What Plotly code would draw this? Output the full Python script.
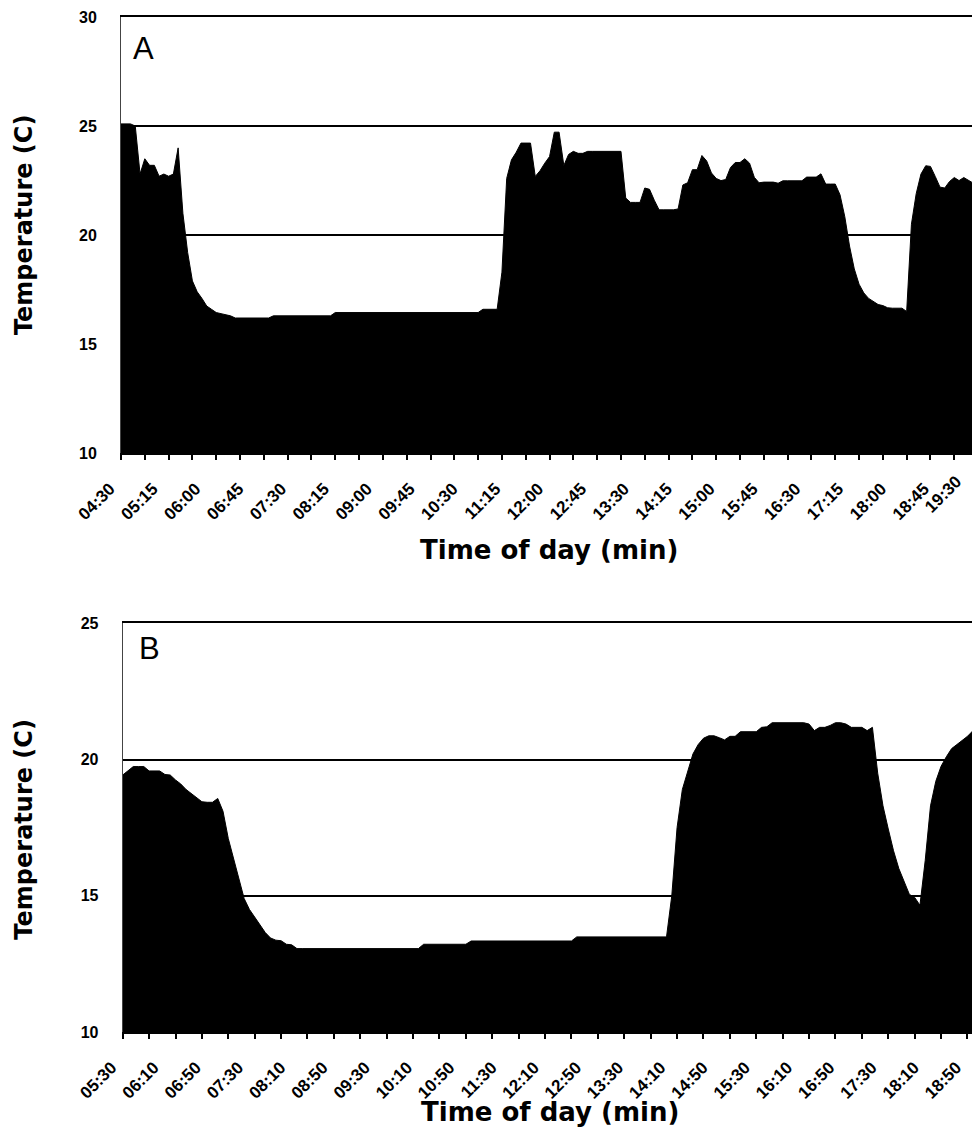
import plotly.graph_objects as go

# ---------------- data ----------------
STEP_MIN = 5  # sampling interval of the logger, minutes

top_start = "04:30"
top_temp = [
    25.1, 25.1, 25.1, 25.0,
    22.8, 23.5, 23.2, 23.2, 22.7, 22.8, 22.7, 22.8,
    24.0, 21.0, 19.2, 17.9, 17.4, 17.1, 16.75, 16.6, 16.45, 16.4, 16.35, 16.3,
    16.2, 16.2, 16.2, 16.2, 16.2, 16.2, 16.2, 16.2,
    16.3, 16.3, 16.3, 16.3, 16.3, 16.3, 16.3, 16.3, 16.3, 16.3, 16.3, 16.3, 16.3,
    16.45, 16.45, 16.45, 16.45, 16.45, 16.45, 16.45, 16.45, 16.45, 16.45,
    16.45, 16.45, 16.45, 16.45, 16.45, 16.45, 16.45, 16.45, 16.45, 16.45,
    16.45, 16.45, 16.45, 16.45, 16.45, 16.45, 16.45, 16.45, 16.45, 16.45, 16.45,
    16.6, 16.6, 16.6, 16.6,
    18.3, 22.6, 23.45, 23.8, 24.22, 24.22, 24.22, 22.69, 22.95, 23.3, 23.6,
    24.72, 24.72, 23.19, 23.7, 23.84, 23.75, 23.75,
    23.84, 23.84, 23.84, 23.84, 23.84, 23.84, 23.84, 23.84,
    21.7, 21.5, 21.5, 21.5,
    22.16, 22.1, 21.6,
    21.16, 21.16, 21.16, 21.16, 21.2,
    22.3, 22.4, 23.0, 23.0, 23.65, 23.4, 22.85, 22.6, 22.5, 22.55, 23.1,
    23.33, 23.33, 23.5, 23.3, 22.65, 22.4, 22.43, 22.43, 22.43, 22.38,
    22.49, 22.49, 22.49, 22.49, 22.49,
    22.66, 22.66, 22.66, 22.81,
    22.34, 22.34, 22.34,
    21.85, 20.85, 19.5, 18.45, 17.75, 17.35, 17.1, 16.95, 16.82, 16.77, 16.67,
    16.65, 16.65, 16.65,
    16.5, 20.5, 21.9, 22.8, 23.18, 23.15, 22.69, 22.2, 22.16, 22.46, 22.64,
    22.5, 22.64, 22.5, 22.38,
]

bottom_start = "05:30"
bottom_temp = [
    19.43, 19.6, 19.74, 19.74, 19.74, 19.58, 19.58, 19.58, 19.45, 19.43,
    19.25, 19.1, 18.9, 18.75, 18.6, 18.45, 18.43, 18.43, 18.57,
    18.1, 17.1, 16.4, 15.7, 14.9, 14.5, 14.2, 13.9, 13.65, 13.45, 13.37,
    13.35, 13.22, 13.2,
    13.06, 13.06, 13.06, 13.06, 13.06, 13.06, 13.06, 13.06, 13.06, 13.06, 13.06, 13.06,
    13.06, 13.06, 13.06, 13.06, 13.06, 13.06, 13.06, 13.06, 13.06, 13.06, 13.06, 13.06,
    13.22, 13.22, 13.22, 13.22, 13.22, 13.22, 13.22, 13.22, 13.22,
    13.34, 13.34, 13.34, 13.34, 13.34, 13.34, 13.34, 13.34, 13.34, 13.34,
    13.34, 13.34, 13.34, 13.34, 13.34, 13.34, 13.34, 13.34, 13.34, 13.34,
    13.49, 13.49, 13.49, 13.49, 13.49, 13.49, 13.49, 13.49, 13.49,
    13.49, 13.49, 13.49, 13.49, 13.49, 13.49, 13.49, 13.49, 13.49,
    15.0, 17.5, 18.9, 19.6, 20.2, 20.55, 20.78, 20.87, 20.87, 20.8,
    20.72, 20.85, 20.85, 21.02, 21.02, 21.02, 21.02, 21.18, 21.2,
    21.35, 21.35, 21.35, 21.35, 21.35, 21.35, 21.35,
    21.3, 21.06, 21.18, 21.18, 21.25, 21.35, 21.35, 21.3, 21.18, 21.18,
    21.18, 21.06, 21.18, 19.5, 18.3, 17.45, 16.65, 16.0, 15.5, 15.05,
    14.94, 14.65, 16.3, 18.3, 19.2, 19.75, 20.1, 20.4, 20.55, 20.7,
    20.85, 21.05,
]

top_labels = ["04:30", "05:15", "06:00", "06:45", "07:30", "08:15", "09:00",
              "09:45", "10:30", "11:15", "12:00", "12:45", "13:30", "14:15",
              "15:00", "15:45", "16:30", "17:15", "18:00", "18:45", "19:30"]
bottom_labels = ["05:30", "06:10", "06:50", "07:30", "08:10", "08:50", "09:30",
                 "10:10", "10:50", "11:30", "12:10", "12:50", "13:30", "14:10",
                 "14:50", "15:30", "16:10", "16:50", "17:30", "18:10", "18:50"]

top_yticks = [10, 15, 20, 25, 30]
bottom_yticks = [10, 15, 20, 25]


# ---------------- helpers ----------------
def to_min(s):
    h, m = s.split(":")
    return int(h) * 60 + int(m)


top_x = [to_min(top_start) + STEP_MIN * i for i in range(len(top_temp))]
bottom_x = [to_min(bottom_start) + STEP_MIN * i for i in range(len(bottom_temp))]

# visible windows (right edge of the figure cuts the plots)
top_range = [to_min(top_start), to_min(top_start) + 893.6]
bottom_range = [to_min(bottom_start), to_min(bottom_start) + 804.3]

TICK_EVERY = 25  # minutes between tick marks
EPS = 0.001
LABEL_SHIFT = -11   # px, labels sit a little left of their tick (as in source)
LABEL_STANDOFF = 17  # px below the axis line


def minor_vals(rng):
    vals = []
    v = rng[0]
    while v <= rng[1] + 1e-9:
        vals.append(v + EPS)
        v += TICK_EVERY
    return vals


top_tv = [to_min(s) for s in top_labels]
top_in = [(v, t) for v, t in zip(top_tv, top_labels) if v <= top_range[1]]
top_out = [(v, t) for v, t in zip(top_tv, top_labels) if v > top_range[1]]
bottom_tv = [to_min(s) for s in bottom_labels]

TICKFONT = dict(family="Liberation Sans, Arial, sans-serif", size=17,
                color="black", weight="bold")
YTICKFONT = dict(family="Liberation Sans, Arial, sans-serif", size=16,
                 color="black", weight="bold")
TITLEFONT = dict(family="DejaVu Sans, sans-serif", color="black", weight="bold")

fig = go.Figure()
fig.add_trace(go.Scatter(x=top_x, y=top_temp, xaxis="x", yaxis="y",
                         mode="lines", fill="tozeroy", fillcolor="black",
                         line=dict(color="black", width=1), showlegend=False,
                         hoverinfo="skip"))
fig.add_trace(go.Scatter(x=bottom_x, y=bottom_temp, xaxis="x2", yaxis="y2",
                         mode="lines", fill="tozeroy", fillcolor="black",
                         line=dict(color="black", width=1), showlegend=False,
                         hoverinfo="skip"))


def xaxis_cfg(rng, tv, tt, domain, anchor):
    return dict(
        domain=domain, anchor=anchor, range=rng, tickmode="array",
        tickvals=tv, ticktext=tt, ticks="", tickangle=-45, tickfont=TICKFONT,
        ticklabelstandoff=LABEL_STANDOFF, ticklabelshift=LABEL_SHIFT,
        automargin=False, ticklabeloverflow="allow",
        showline=True, linecolor="black", linewidth=2, mirror=True,
        showgrid=False, zeroline=False,
        minor=dict(tickmode="array", tickvals=minor_vals(rng), ticks="outside",
                   ticklen=5, tickwidth=2, tickcolor="black", showgrid=False),
    )


def yaxis_cfg(rng, tv, domain, anchor):
    return dict(
        domain=domain, anchor=anchor, range=rng, tickmode="array",
        tickvals=tv, ticks="", tickfont=YTICKFONT, ticklabelstandoff=20,
        showgrid=True, gridcolor="black", gridwidth=2, automargin=False,
        showline=True, linecolor="#444444", linewidth=1, zeroline=False,
    )


fig.update_layout(
    width=972, height=1137, autosize=False,
    margin=dict(l=121, r=0, t=17, b=105),
    paper_bgcolor="white", plot_bgcolor="white",
    xaxis=xaxis_cfg(top_range, [v for v, _ in top_in], [t for _, t in top_in],
                    [0, 1], "y"),
    yaxis=yaxis_cfg([10, 30], top_yticks, [0.5702, 1], "x"),
    xaxis2=xaxis_cfg(bottom_range, bottom_tv, bottom_labels, [0.002, 1], "y2"),
    yaxis2=yaxis_cfg([10, 25], bottom_yticks, [0, 0.4027], "x2"),
)

annotations = [
    dict(text="A", xref="x domain", yref="y domain", x=0, y=1, xanchor="left",
         yanchor="top", xshift=10, yshift=-12, showarrow=False,
         font=dict(family="Liberation Sans, Arial", size=31, color="black")),
    dict(text="B", xref="x2 domain", yref="y2 domain", x=0, y=1, xanchor="left",
         yanchor="top", xshift=14, yshift=-6, showarrow=False,
         font=dict(family="Liberation Sans, Arial", size=31, color="black")),
    dict(text="Time of day (min)", xref="x domain", yref="y domain", x=0.503,
         y=0, xanchor="center", yanchor="middle", yshift=-97, showarrow=False,
         font=dict(TITLEFONT, size=26)),
    dict(text="Time of day (min)", xref="x2 domain", yref="y2 domain", x=0.503,
         y=0, xanchor="center", yanchor="middle", yshift=-80, showarrow=False,
         font=dict(TITLEFONT, size=26)),
    dict(text="Temperature (C)", xref="paper", yref="y domain", x=0, y=0.5,
         xanchor="center", yanchor="middle", xshift=-97, yshift=10,
         textangle=-90, showarrow=False, font=dict(TITLEFONT, size=24)),
    dict(text="Temperature (C)", xref="paper", yref="y2 domain", x=0, y=0.5,
         xanchor="center", yanchor="middle", xshift=-97, yshift=-2,
         textangle=-90, showarrow=False, font=dict(TITLEFONT, size=24)),
]
# tick labels whose tick falls just beyond the cut-off right edge
for v, t in top_out:
    frac = (v - top_range[0]) / (top_range[1] - top_range[0])
    annotations.append(dict(text=t, xref="x domain", yref="y domain", x=frac,
                            y=0, xanchor="right", yanchor="top", xshift=-10,
                            yshift=-17, textangle=-45, showarrow=False,
                            font=TICKFONT))
fig.update_layout(annotations=annotations)

fig.write_html(
    "out.html",
    config={"displayModeBar": False},
    post_script="document.body.style.margin='0';"
                "document.body.style.overflow='hidden';",
)
